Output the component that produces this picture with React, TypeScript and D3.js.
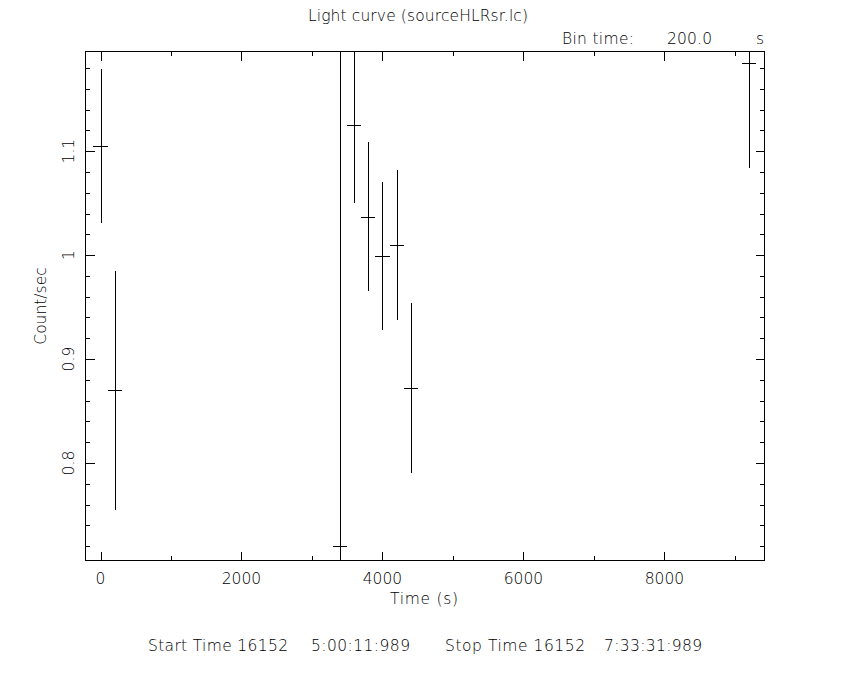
import React from 'react'
import * as d3 from 'd3'

// light curve bins (s), rate (count/s) and 1-sigma errors
const times = [0, 200, 3400, 3600, 3800, 4000, 4200, 4400, 9200]
const rates = [1.105, 0.87, 0.72, 1.125, 1.037, 0.999, 1.01, 0.872, 1.185]
const errors = [0.074, 0.115, 0.5, 0.075, 0.072, 0.071, 0.072, 0.082, 0.101]
const binTime = 200

const xMajor = [0, 2000, 4000, 6000, 8000]
const yMajor = [0.8, 0.9, 1, 1.1]

const W = 850
const H = 680
const left = 85.5
const right = 764.5
const top = 51.5
const bottom = 560.5
const font = 'DejaVu Sans, sans-serif'

export default function App() {
  const x = d3.scaleLinear().domain([-213, 9420]).range([left, right])
  const y = d3.scaleLinear().domain([0.7063, 1.1958]).range([bottom, top])

  const xMinor = d3.range(-1000, 10001, 1000).filter(v => v >= -213 && v <= 9420)
  const yMinor = d3.range(70, 121, 2).map(v => v / 100).filter(v => v >= 0.7063 && v <= 1.1958)

  const isMajX = (v: number) => v % 2000 === 0
  const isMajY = (v: number) => Math.abs(v * 10 - Math.round(v * 10)) < 1e-6

  const px = (v: number) => Math.round(x(v)) + 0.5
  const py = (v: number) => Math.round(y(v)) + 0.5

  return (
    <svg width={W} height={H} style={{ position: 'absolute', left: 0, top: 0, background: '#fff' }}
      fontFamily={font} fontWeight={300}>
      <defs>
        <clipPath id="plot">
          <rect x={left} y={top} width={right - left} height={bottom - top} />
        </clipPath>
      </defs>
      <rect width={W} height={H} fill="#fff" />

      {/* ticks on all 4 sides */}
      <g stroke="#000" strokeWidth={1} shapeRendering="crispEdges">
        {xMinor.map(v => {
          const len = isMajX(v) ? 9 : 4.5
          return (
            <g key={'x' + v}>
              <line x1={px(v)} x2={px(v)} y1={bottom} y2={bottom - len} />
              <line x1={px(v)} x2={px(v)} y1={top} y2={top + len} />
            </g>
          )
        })}
        {yMinor.map(v => {
          const len = isMajY(v) ? 9 : 4.5
          return (
            <g key={'y' + v}>
              <line x1={left} x2={left + len} y1={py(v)} y2={py(v)} />
              <line x1={right} x2={right - len} y1={py(v)} y2={py(v)} />
            </g>
          )
        })}
        <rect x={left} y={top} width={right - left} height={bottom - top} fill="none" />
      </g>

      {/* error bars */}
      <g clipPath="url(#plot)" stroke="#000" strokeWidth={1} shapeRendering="crispEdges">
        {times.map((t, i) => (
          <g key={t}>
            <line x1={px(t)} x2={px(t)} y1={y(rates[i] - errors[i])} y2={y(rates[i] + errors[i])} />
            <line x1={x(t - binTime / 2)} x2={x(t + binTime / 2)} y1={py(rates[i])} y2={py(rates[i])} />
          </g>
        ))}
      </g>

      {/* tick labels */}
      <g fontSize={15.5} fill="#000" textAnchor="middle">
        {xMajor.map(v => (
          <text key={v} x={x(v)} y={584}>{v}</text>
        ))}
        {yMajor.map(v => (
          <text key={v} transform={`translate(74,${y(v)}) rotate(-90)`}>{d3.format('')(v)}</text>
        ))}
      </g>

      <text x={424} y={604} fontSize={15.5} textAnchor="middle" textLength={68}>Time (s)</text>
      <text transform={`translate(46,${(top + bottom) / 2}) rotate(-90)`} fontSize={15.5} textAnchor="middle">Count/sec</text>

      <text x={308} y={21} fontSize={15.5} textLength={220}>Light curve (sourceHLRsr.lc)</text>
      <text x={562} y={44} fontSize={15.5} textLength={72}>Bin time:</text>
      <text x={667} y={44} fontSize={15.5} textLength={45}>{binTime.toFixed(1)}</text>
      <text x={756} y={44} fontSize={15.5}>s</text>

      <g fontSize={15.5}>
        <text x={148} y={651} textLength={140}>Start Time 16152</text>
        <text x={311} y={651} textLength={99}>5:00:11:989</text>
        <text x={445} y={651} textLength={140}>Stop Time 16152</text>
        <text x={604} y={651} textLength={98}>7:33:31:989</text>
      </g>
    </svg>
  )
}
